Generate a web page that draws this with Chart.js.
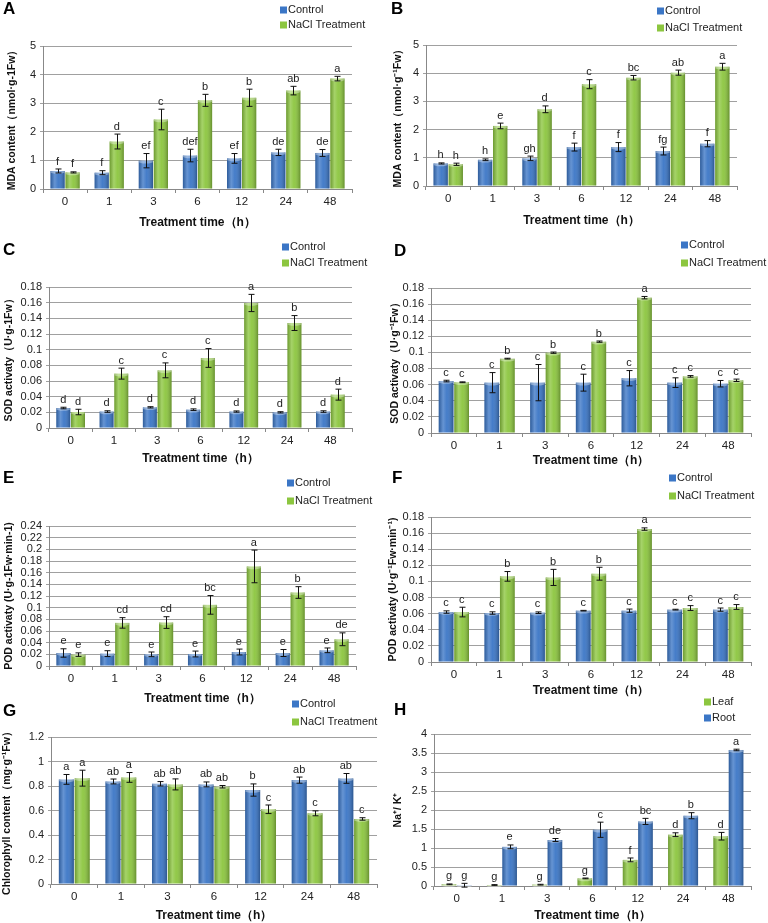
<!DOCTYPE html>
<html>
<head>
<meta charset="utf-8">
<script src="https://cdn.jsdelivr.net/npm/chart.js@4.4.1/dist/chart.umd.min.js"></script>
<style>
  body { margin: 0; background: #fff; width: 768px; height: 923px; position: relative; overflow: hidden; }
  canvas { position: absolute; }
</style>
</head>
<body>
<canvas id="cA"></canvas>
<canvas id="cB"></canvas>
<canvas id="cC"></canvas>
<canvas id="cD"></canvas>
<canvas id="cE"></canvas>
<canvas id="cF"></canvas>
<canvas id="cG"></canvas>
<canvas id="cH"></canvas>
<script>
// categories
const hours = ['0', '1', '3', '6', '12', '24', '48'];

// A - MDA
const mdaA_ctrl = [0.63, 0.57, 0.99, 1.17, 1.07, 1.28, 1.26];
const mdaA_ctrlErr = [0.07, 0.07, 0.25, 0.22, 0.17, 0.11, 0.12];
const mdaA_ctrlSig = ['f', 'f', 'ef', 'def', 'ef', 'de', 'de'];
const mdaA_nacl = [0.58, 1.66, 2.43, 3.10, 3.19, 3.44, 3.86];
const mdaA_naclErr = [0.02, 0.26, 0.36, 0.21, 0.30, 0.15, 0.08];
const mdaA_naclSig = ['f', 'd', 'c', 'b', 'b', 'ab', 'a'];

// B - MDA
const mdaB_ctrl = [0.80, 0.93, 0.98, 1.38, 1.38, 1.24, 1.50];
const mdaB_ctrlErr = [0.02, 0.03, 0.08, 0.14, 0.16, 0.14, 0.11];
const mdaB_ctrlSig = ['h', 'h', 'gh', 'f', 'f', 'fg', 'f'];
const mdaB_nacl = [0.77, 2.13, 2.72, 3.61, 3.84, 4.02, 4.23];
const mdaB_naclErr = [0.04, 0.10, 0.12, 0.16, 0.08, 0.09, 0.12];
const mdaB_naclSig = ['h', 'e', 'd', 'c', 'bc', 'ab', 'a'];

// C - SOD
const sodC_ctrl = [0.0255, 0.021, 0.0264, 0.0234, 0.021, 0.020, 0.021];
const sodC_ctrlErr = [0.001, 0.001, 0.0008, 0.001, 0.0008, 0.0008, 0.001];
const sodC_ctrlSig = ['d', 'd', 'd', 'd', 'd', 'd', 'd'];
const sodC_nacl = [0.0204, 0.0694, 0.0736, 0.0894, 0.1596, 0.134, 0.0426];
const sodC_naclErr = [0.0035, 0.007, 0.0095, 0.012, 0.011, 0.0095, 0.007];
const sodC_naclSig = ['d', 'c', 'c', 'c', 'a', 'b', 'd'];

// D - SOD
const sodD_ctrl = [0.0645, 0.0625, 0.0625, 0.0625, 0.068, 0.0625, 0.0612];
const sodD_ctrlErr = [0.001, 0.0125, 0.0225, 0.0105, 0.0095, 0.006, 0.004];
const sodD_ctrlSig = ['c', 'c', 'c', 'c', 'c', 'c', 'c'];
const sodD_nacl = [0.063, 0.0923, 0.0997, 0.1134, 0.168, 0.0703, 0.0654];
const sodD_naclErr = [0.0005, 0.0005, 0.0008, 0.0008, 0.0015, 0.001, 0.0015];
const sodD_naclSig = ['c', 'b', 'b', 'b', 'a', 'c', 'c'];

// E - POD
const podE_ctrl = [0.0223, 0.0212, 0.020, 0.0206, 0.024, 0.0223, 0.0269];
const podE_ctrlErr = [0.0072, 0.005, 0.004, 0.005, 0.005, 0.006, 0.004];
const podE_ctrlSig = ['e', 'e', 'e', 'e', 'e', 'e', 'e'];
const podE_nacl = [0.0195, 0.0739, 0.0745, 0.1048, 0.1707, 0.126, 0.0458];
const podE_naclErr = [0.003, 0.009, 0.01, 0.016, 0.028, 0.01, 0.011];
const podE_naclSig = ['e', 'cd', 'cd', 'bc', 'a', 'b', 'de'];

// F - POD
const podF_ctrl = [0.062, 0.0608, 0.0612, 0.0637, 0.0637, 0.065, 0.065];
const podF_ctrlErr = [0.0015, 0.0015, 0.001, 0.0004, 0.002, 0.0005, 0.002];
const podF_ctrlSig = ['c', 'c', 'c', 'c', 'c', 'c', 'c'];
const podF_nacl = [0.062, 0.1063, 0.105, 0.1096, 0.165, 0.067, 0.0683];
const podF_naclErr = [0.006, 0.006, 0.01, 0.008, 0.0015, 0.003, 0.003];
const podF_naclSig = ['c', 'b', 'b', 'b', 'a', 'c', 'c'];

// G - chlorophyll
const chlG_ctrl = [0.854, 0.837, 0.818, 0.813, 0.767, 0.848, 0.862];
const chlG_ctrlErr = [0.04, 0.02, 0.018, 0.02, 0.05, 0.025, 0.04];
const chlG_ctrlSig = ['a', 'ab', 'ab', 'ab', 'b', 'ab', 'ab'];
const chlG_nacl = [0.864, 0.87, 0.813, 0.794, 0.61, 0.577, 0.531];
const chlG_naclErr = [0.065, 0.04, 0.045, 0.01, 0.035, 0.02, 0.01];
const chlG_naclSig = ['a', 'a', 'ab', 'ab', 'c', 'c', 'c'];

// H - Na+/K+
const naH_leaf = [0.044, 0.026, 0.035, 0.20, 0.687, 1.35, 1.31];
const naH_leafErr = [0.01, 0.01, 0.01, 0.01, 0.05, 0.05, 0.1];
const naH_leafSig = ['g', 'g', 'g', 'g', 'f', 'd', 'd'];
const naH_root = [0.02, 1.03, 1.21, 1.48, 1.70, 1.85, 3.58];
const naH_rootErr = [0.05, 0.05, 0.04, 0.2, 0.08, 0.08, 0.02];
const naH_rootSig = ['g', 'e', 'de', 'c', 'bc', 'b', 'a'];

const BLUE = '#3b76c6';
const GREEN = '#8cc63f';

Chart.defaults.font.family = '"Liberation Sans", Arial, sans-serif';
Chart.defaults.color = '#222';

// error bars, letters, 3D shading, legend and panel letter
const extras = {
  id: 'extras',
  afterDatasetsDraw(chart, args, opts) {
    const ctx = chart.ctx;
    const yScale = chart.scales.y;
    ctx.save();
    chart.data.datasets.forEach((ds, i) => {
      const meta = chart.getDatasetMeta(i);
      meta.data.forEach((bar, j) => {
        const p = bar.getProps(['x', 'y', 'base', 'width'], true);
        const g = ctx.createLinearGradient(p.x - p.width / 2, 0, p.x + p.width / 2, 0);
        g.addColorStop(0, 'rgba(0,0,0,0.22)');
        g.addColorStop(0.3, 'rgba(255,255,255,0.22)');
        g.addColorStop(0.55, 'rgba(255,255,255,0.05)');
        g.addColorStop(1, 'rgba(0,0,0,0.28)');
        ctx.fillStyle = g;
        ctx.fillRect(p.x - p.width / 2, p.y, p.width, p.base - p.y);
        ctx.fillStyle = 'rgba(255,255,255,0.35)';
        ctx.beginPath();
        ctx.ellipse(p.x, p.y + 1, p.width / 2, 1.8, 0, 0, Math.PI * 2);
        ctx.fill();
      });
    });
    ctx.strokeStyle = '#111';
    ctx.lineWidth = 1;
    ctx.fillStyle = '#222';
    ctx.font = '11px "Liberation Sans", Arial, sans-serif';
    ctx.textAlign = 'center';
    ctx.textBaseline = 'bottom';
    chart.data.datasets.forEach((ds, i) => {
      const meta = chart.getDatasetMeta(i);
      meta.data.forEach((bar, j) => {
        const v = ds.data[j];
        const e = opts.errs[i][j];
        const x = Math.round(bar.x) + 0.5;
        const yt = yScale.getPixelForValue(v + e);
        const yb = yScale.getPixelForValue(v - e);
        ctx.beginPath();
        ctx.moveTo(x, yt); ctx.lineTo(x, yb);
        ctx.moveTo(x - 3, yt); ctx.lineTo(x + 3, yt);
        ctx.moveTo(x - 3, yb); ctx.lineTo(x + 3, yb);
        ctx.stroke();
        ctx.fillText(opts.sig[i][j], bar.x, yt - 2);
      });
    });
    // legend
    const lg = opts.legend;
    ctx.font = '11px "Liberation Sans", Arial, sans-serif';
    ctx.textAlign = 'left';
    ctx.textBaseline = 'middle';
    chart.data.datasets.forEach((ds, i) => {
      const y = lg.y[i];
      ctx.fillStyle = ds.backgroundColor;
      ctx.fillRect(lg.x, y - 3.5, 7, 7);
      ctx.fillStyle = '#222';
      ctx.fillText(ds.label, lg.x + 8, y);
    });
    // panel letter
    ctx.font = 'bold 17px "Liberation Sans", Arial, sans-serif';
    ctx.fillStyle = '#000';
    ctx.fillText(opts.letter.text, opts.letter.x, opts.letter.y);
    ctx.restore();
  }
};

function fmt(v) { return String(+v.toFixed(4)); }

function makePanel(p) {
  const [L, T, W, H] = p.box;
  const [x0, x1, y0, y1] = p.area;
  const cv = document.getElementById(p.id);
  cv.width = W; cv.height = H;
  cv.style.left = L + 'px'; cv.style.top = T + 'px';
  new Chart(cv, {
    type: 'bar',
    data: {
      labels: hours,
      datasets: p.series.map(s => ({
        label: s.name, data: s.values, backgroundColor: s.color,
        borderWidth: 0, categoryPercentage: 0.68, barPercentage: 0.95
      }))
    },
    options: {
      responsive: false,
      animation: false,
      layout: { padding: { top: y0 - T, right: L + W - x1, left: 0, bottom: 0 } },
      plugins: {
        legend: { display: false },
        tooltip: { enabled: false },
        extras: {
          errs: p.series.map(s => s.errs),
          sig: p.series.map(s => s.sig),
          legend: { x: p.legend[0] - L, y: [p.legend[1] - T, p.legend[2] - T] },
          letter: { text: p.letter[0], x: p.letter[1] - L, y: p.letter[2] - T }
        }
      },
      scales: {
        x: {
          offset: true,
          grid: { offset: true, drawOnChartArea: false, drawTicks: true, tickLength: 4, color: '#888' },
          border: { color: '#888' },
          ticks: { color: '#222', font: { size: 11.5 }, padding: 2, maxRotation: 0 },
          title: { display: true, text: 'Treatment time（h）', color: '#111',
                   font: { size: 12, weight: 'bold' }, padding: { top: 0, bottom: 0 } },
          afterFit: s => { s.height = T + H - y1; }
        },
        y: {
          min: 0, max: p.ymax,
          ticks: { stepSize: p.step, autoSkip: false, color: '#222', font: { size: 11 }, padding: 4, callback: fmt },
          grid: { color: '#a0a0a0', tickLength: 3 },
          border: { color: '#888' },
          title: { display: true, text: p.ytitle, color: '#111',
                   font: { size: 10.5, weight: 'bold' }, padding: { top: p.tpad, bottom: 0 } },
          afterFit: s => { s.width = x0 - L; }
        }
      }
    },
    plugins: [extras]
  });
}

makePanel({
  id: 'cA', box: [0, 0, 384, 230], area: [43, 352, 46, 189], ymax: 5, step: 1, tpad: 6,
  ytitle: 'MDA content（nmol·g-1Fw）', legend: [280, 10, 25], letter: ['A', 3, 9],
  series: [
    { name: 'Control', values: mdaA_ctrl, errs: mdaA_ctrlErr, sig: mdaA_ctrlSig, color: BLUE },
    { name: 'NaCl Treatment', values: mdaA_nacl, errs: mdaA_naclErr, sig: mdaA_naclSig, color: GREEN }
  ]
});
makePanel({
  id: 'cB', box: [384, 0, 384, 228], area: [426, 737, 45, 186], ymax: 5, step: 1, tpad: 8,
  ytitle: 'MDA content（nmol·g⁻¹Fw）', legend: [657, 11, 28], letter: ['B', 391, 9],
  series: [
    { name: 'Control', values: mdaB_ctrl, errs: mdaB_ctrlErr, sig: mdaB_ctrlSig, color: BLUE },
    { name: 'NaCl Treatment', values: mdaB_nacl, errs: mdaB_naclErr, sig: mdaB_naclSig, color: GREEN }
  ]
});
makePanel({
  id: 'cC', box: [0, 230, 384, 236], area: [49, 352, 287, 428], ymax: 0.18, step: 0.02, tpad: 3,
  ytitle: 'SOD activaty（U·g-1Fw）', legend: [282, 247, 263], letter: ['C', 3, 250],
  series: [
    { name: 'Control', values: sodC_ctrl, errs: sodC_ctrlErr, sig: sodC_ctrlSig, color: BLUE },
    { name: 'NaCl Treatment', values: sodC_nacl, errs: sodC_naclErr, sig: sodC_naclSig, color: GREEN }
  ]
});
makePanel({
  id: 'cD', box: [384, 230, 384, 238], area: [431, 751, 288, 433], ymax: 0.18, step: 0.02, tpad: 5,
  ytitle: 'SOD activaty（U·g⁻¹Fw）', legend: [681, 245, 263], letter: ['D', 394, 251],
  series: [
    { name: 'Control', values: sodD_ctrl, errs: sodD_ctrlErr, sig: sodD_ctrlSig, color: BLUE },
    { name: 'NaCl Treatment', values: sodD_nacl, errs: sodD_naclErr, sig: sodD_naclSig, color: GREEN }
  ]
});
makePanel({
  id: 'cE', box: [0, 460, 384, 246], area: [49, 356, 526, 666], ymax: 0.24, step: 0.02, tpad: 3,
  ytitle: 'POD activaty (U·g-1Fw·min-1)', legend: [287, 483, 501], letter: ['E', 3, 478],
  series: [
    { name: 'Control', values: podE_ctrl, errs: podE_ctrlErr, sig: podE_ctrlSig, color: BLUE },
    { name: 'NaCl Treatment', values: podE_nacl, errs: podE_naclErr, sig: podE_naclSig, color: GREEN }
  ]
});
makePanel({
  id: 'cF', box: [384, 460, 384, 238], area: [431, 751, 517, 662], ymax: 0.18, step: 0.02, tpad: 3,
  ytitle: 'POD activaty (U·g⁻¹Fw·min⁻¹)', legend: [669, 478, 496], letter: ['F', 392, 478],
  series: [
    { name: 'Control', values: podF_ctrl, errs: podF_ctrlErr, sig: podF_ctrlSig, color: BLUE },
    { name: 'NaCl Treatment', values: podF_nacl, errs: podF_naclErr, sig: podF_naclSig, color: GREEN }
  ]
});
makePanel({
  id: 'cG', box: [0, 695, 384, 228], area: [51, 377, 737, 884], ymax: 1.2, step: 0.2, tpad: 1,
  ytitle: 'Chlorophyll content（mg·g⁻¹Fw）', legend: [292, 704, 722], letter: ['G', 3, 711],
  series: [
    { name: 'Control', values: chlG_ctrl, errs: chlG_ctrlErr, sig: chlG_ctrlSig, color: BLUE },
    { name: 'NaCl Treatment', values: chlG_nacl, errs: chlG_naclErr, sig: chlG_naclSig, color: GREEN }
  ]
});
makePanel({
  id: 'cH', box: [384, 695, 384, 228], area: [434, 751, 734, 886], ymax: 4, step: 0.5, tpad: 8,
  ytitle: 'Na⁺/ K⁺', legend: [704, 702, 718], letter: ['H', 394, 710],
  series: [
    { name: 'Leaf', values: naH_leaf, errs: naH_leafErr, sig: naH_leafSig, color: GREEN },
    { name: 'Root', values: naH_root, errs: naH_rootErr, sig: naH_rootSig, color: BLUE }
  ]
});
</script>
</body>
</html>
